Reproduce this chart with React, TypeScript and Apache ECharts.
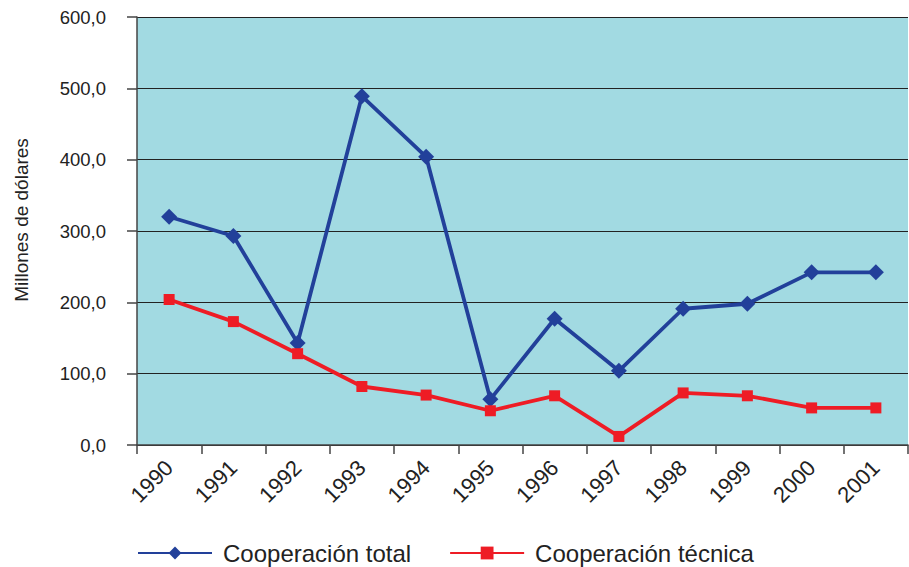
import React, { useEffect, useRef } from "react";
import * as echarts from "echarts";

const categories = ["1990", "1991", "1992", "1993", "1994", "1995", "1996", "1997", "1998", "1999", "2000", "2001"];
const totalValues = [320, 293, 143, 489, 404, 64, 177, 104, 191, 198, 242, 242];
const tecnicaValues = [204, 173, 128, 82, 70, 48, 69, 12, 73, 69, 52, 52];
const seriesNames = ["Cooperación total", "Cooperación técnica"];
const yAxisName = "Millones de dólares";

export default function App() {
  const ref = useRef<HTMLDivElement>(null);
  useEffect(() => {
    if (!ref.current) return;
    const chart = echarts.init(ref.current, undefined, { renderer: "svg" });
    const font = "'Liberation Sans', Arial, sans-serif";
    chart.setOption({
      animation: false,
      textStyle: { fontFamily: font },
      grid: {
        left: 137,
        right: 1,
        top: 17,
        bottom: 122,
        show: true,
        backgroundColor: "#A2DAE2",
        borderWidth: 0,
      },
      legend: {
        left: 137,
        bottom: 2,
        padding: 0,
        itemWidth: 74,
        itemHeight: 16,
        itemGap: 38,
        textStyle: { fontSize: 24, color: "#222", fontFamily: font, padding: [0, 0, 0, 6] },
        data: seriesNames,
      },
      xAxis: {
        type: "category",
        data: categories,
        boundaryGap: true,
        axisLine: { show: true, lineStyle: { color: "#444", width: 1.5 } },
        axisTick: { show: true, length: 9, alignWithLabel: false, lineStyle: { color: "#444", width: 1.5 } },
        axisLabel: {
          rotate: 45,
          fontSize: 22,
          color: "#222",
          margin: 19,
          padding: [26, 0, 0, 0],
          fontFamily: font,
        },
        splitLine: { show: false },
      },
      yAxis: {
        type: "value",
        min: 0,
        max: 600,
        interval: 100,
        name: yAxisName,
        nameLocation: "middle",
        nameGap: 106,
        nameRotate: 90,
        nameTextStyle: { fontSize: 19, color: "#222", fontFamily: font, padding: [0, 0, 0, 22] },
        axisLine: { show: true, lineStyle: { color: "#444", width: 1.5 } },
        axisTick: { show: true, length: 10, lineStyle: { color: "#444", width: 1.5 } },
        axisLabel: {
          fontSize: 18.5,
          color: "#222",
          margin: 31,
          fontFamily: font,
          formatter: (v: number) => v.toFixed(1).replace(".", ","),
        },
        splitLine: { show: true, lineStyle: { color: "#222", width: 1.2 } },
      },
      series: [
        {
          name: seriesNames[0],
          type: "line",
          data: totalValues,
          symbol: "diamond",
          symbolSize: 16,
          lineStyle: { color: "#22409A", width: 3.8 },
          itemStyle: { color: "#22409A" },
        },
        {
          name: seriesNames[1],
          type: "line",
          data: tecnicaValues,
          symbol: "rect",
          symbolSize: 11,
          lineStyle: { color: "#EE1C25", width: 3.8 },
          itemStyle: { color: "#EE1C25" },
        },
      ],
    });
    return () => chart.dispose();
  }, []);
  return <div ref={ref} style={{ width: 909, height: 567, position: "absolute", left: 0, top: 0 }} />;
}
